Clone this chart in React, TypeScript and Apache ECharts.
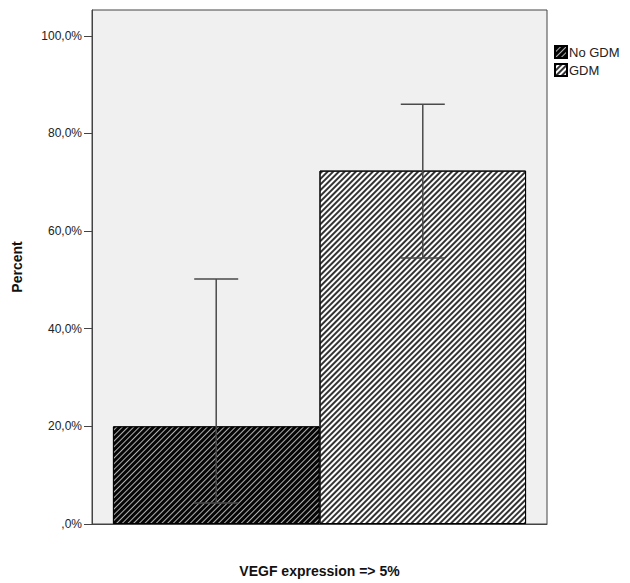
import React, { useEffect, useRef } from "react";
import * as echarts from "echarts";

const categories = [""];
const seriesNames = ["No GDM", "GDM"];
const percentValues = [20.0, 72.4];
const errorLow = [4.3, 54.5];
const errorHigh = [50.2, 86.0];
const yTicks = [0, 20, 40, 60, 80, 100];
const xTitle = "VEGF expression => 5%";
const yTitle = "Percent";

const GAP = 0.092;

export default function App() {
  const ref = useRef<HTMLDivElement>(null);
  useEffect(() => {
    if (!ref.current) return;
    const chart = echarts.init(ref.current, null, { renderer: "svg" });
    const fmt = (v: number) => (v === 0 ? ",0%" : v.toFixed(1).replace(".", ",") + "%");
    const barStyles = [
      { color: "#050505", decal: { symbol: "rect", symbolSize: 1, dashArrayX: [1, 0], dashArrayY: [0.9, 2.2], rotation: -Math.PI / 4, color: "#b0b0b0" } },
      { color: "#ffffff", decal: { symbol: "rect", symbolSize: 1, dashArrayX: [1, 0], dashArrayY: [1.3, 1.9], rotation: -Math.PI / 4, color: "#333333" } },
    ];
    const barSeries = seriesNames.map((name, i) => ({
      type: "bar",
      name,
      data: [percentValues[i]],
      barGap: "0%",
      barCategoryGap: (GAP * 100).toFixed(1) + "%",
      itemStyle: { ...barStyles[i], borderColor: "#000", borderWidth: 1 },
      z: 2,
    }));
    const errSeries = seriesNames.map((name, i) => ({
      type: "custom",
      name: name + " err",
      z: 5,
      data: [[0, errorLow[i], errorHigh[i]]],
      renderItem: (params: any, api: any) => {
        const band = api.size([1, 0])[0];
        const barW = (band * (1 - GAP)) / 2;
        const off = (i === 0 ? -1 : 1) * barW / 2;
        const lo = api.coord([api.value(0), api.value(1)]);
        const hi = api.coord([api.value(0), api.value(2)]);
        const x = lo[0] + off;
        const cap = 22;
        const style = { stroke: "#4a4a4a", lineWidth: 1.5 };
        return {
          type: "group",
          children: [
            { type: "line", shape: { x1: x, y1: lo[1], x2: x, y2: hi[1] }, style },
            { type: "line", shape: { x1: x - cap, y1: lo[1], x2: x + cap, y2: lo[1] }, style },
            { type: "line", shape: { x1: x - cap, y1: hi[1], x2: x + cap, y2: hi[1] }, style },
          ],
        };
      },
    }));
    chart.setOption({
      animation: false,
      backgroundColor: "#ffffff",
      textStyle: { fontFamily: "Arial, 'Liberation Sans', sans-serif" },
      legend: {
        data: seriesNames,
        orient: "vertical",
        left: 549,
        top: 40,
        itemWidth: 12,
        itemHeight: 12,
        itemGap: 4,
        icon: "rect",
        textStyle: { fontSize: 13, color: "#222", padding: [0, 0, 0, -3] },
      },
      grid: {
        left: 92,
        right: 83,
        top: 10,
        bottom: 54,
        show: true,
        backgroundColor: "#f0f0f0",
        borderColor: "#444",
        borderWidth: 1,
      },
      xAxis: {
        type: "category",
        data: categories,
        name: xTitle,
        nameLocation: "middle",
        nameGap: 40,
        nameTextStyle: { fontSize: 14, fontWeight: "bold", color: "#111" },
        axisLine: { lineStyle: { color: "#444" } },
        axisTick: { alignWithLabel: true, length: 8, lineStyle: { color: "#444" } },
        axisLabel: { show: false },
      },
      yAxis: {
        type: "value",
        min: 0,
        max: 105.3,
        interval: 20,
        name: yTitle,
        nameLocation: "middle",
        nameRotate: 90,
        nameGap: 68,
        nameTextStyle: { fontSize: 14, fontWeight: "bold", color: "#111" },
        splitLine: { show: false },
        axisLine: { show: true, lineStyle: { color: "#444" } },
        axisTick: { show: true, length: 8, customValues: yTicks, lineStyle: { color: "#444" } },
        axisLabel: { customValues: yTicks, formatter: fmt, fontSize: 12, color: "#222", margin: 10 },
      },
      series: [...barSeries, ...errSeries],
    });
    return () => chart.dispose();
  }, []);
  return <div ref={ref} style={{ position: "fixed", left: 0, top: 0, width: 630, height: 583 }} />;
}
